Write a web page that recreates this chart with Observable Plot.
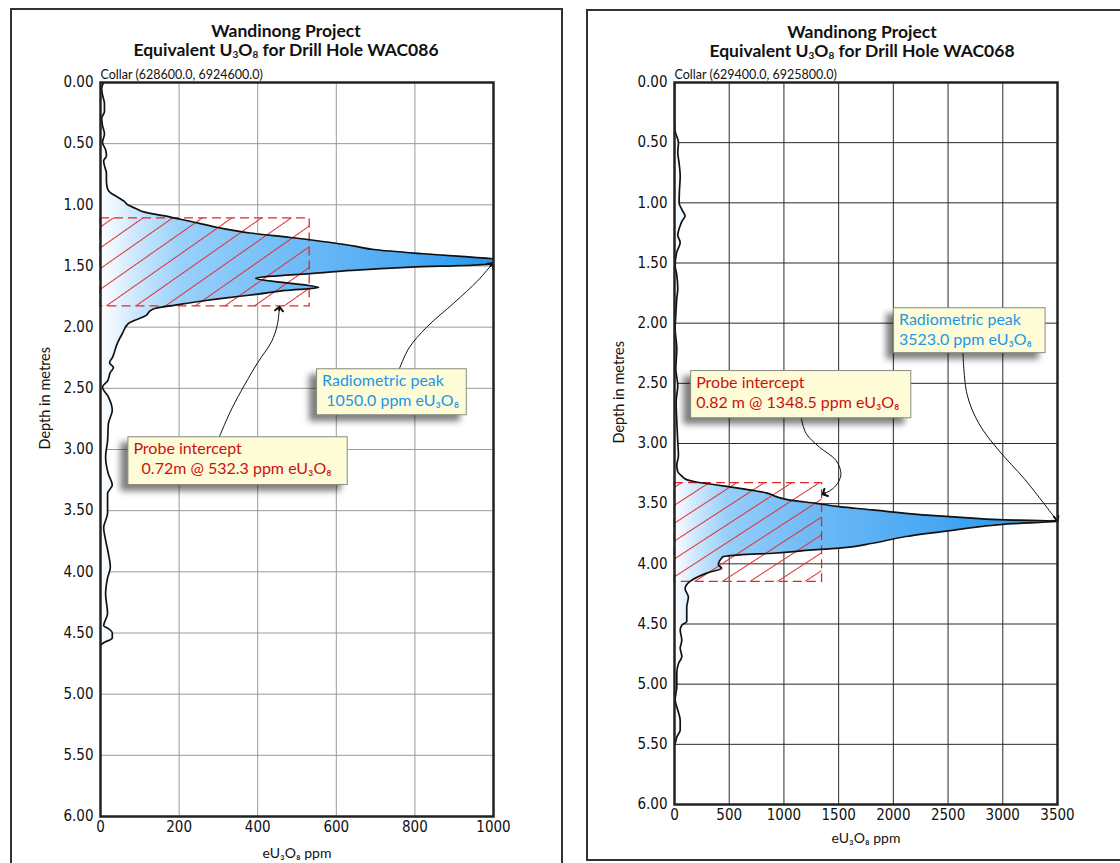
<!DOCTYPE html>
<html><head><meta charset="utf-8">
<script src="https://cdn.jsdelivr.net/npm/d3@7"></script>
<script src="https://cdn.jsdelivr.net/npm/@observablehq/plot@0.6"></script>
<style>
html,body{margin:0;padding:0;background:#fff}
body{width:1120px;height:863px;overflow:hidden;position:relative;font-family:Lato,"Open Sans",sans-serif}
.panel{position:absolute;border:2px solid #333;box-sizing:border-box;background:#fff}
.title{position:absolute;text-align:center;font-weight:bold;font-size:17.5px;line-height:19px;color:#111;font-family:Lato,sans-serif}
.title sub{font-size:10px;vertical-align:-2px;line-height:0}
.chart{position:absolute}
svg g[aria-label="rect"][fill="#fdfcd6"]{filter:drop-shadow(-7px 6px 3px rgba(0,0,0,0.5))}
</style></head>
<body>
<svg width="0" height="0" style="position:absolute">
 <defs>
  <linearGradient id="gradL" x1="0" x2="1" y1="0" y2="0">
   <stop offset="0" stop-color="#ffffff"/>
   <stop offset="0.08" stop-color="#cfe9fd"/>
   <stop offset="0.2" stop-color="#98d0fa"/>
   <stop offset="0.45" stop-color="#72bdf7"/>
   <stop offset="0.75" stop-color="#4aa9f3"/>
   <stop offset="1" stop-color="#1593ec"/>
  </linearGradient>
  <linearGradient id="gradR" x1="0" x2="1" y1="0" y2="0">
   <stop offset="0" stop-color="#ffffff"/>
   <stop offset="0.05" stop-color="#d2eafd"/>
   <stop offset="0.14" stop-color="#96cef9"/>
   <stop offset="0.35" stop-color="#6fbaf6"/>
   <stop offset="0.7" stop-color="#45a6f2"/>
   <stop offset="1" stop-color="#1a94ec"/>
  </linearGradient>
  <pattern id="hatchL" patternUnits="userSpaceOnUse" width="20" height="17" patternTransform="rotate(-35)">
   <line x1="0" y1="0.5" x2="20" y2="0.5" stroke="#e03030" stroke-width="1"/>
  </pattern>
  <pattern id="hatchR" patternUnits="userSpaceOnUse" width="20" height="15" patternTransform="rotate(-33)">
   <line x1="0" y1="0.5" x2="20" y2="0.5" stroke="#e03030" stroke-width="1"/>
  </pattern>
 </defs>
</svg>
<div class="panel" style="left:10px;top:8px;width:553px;height:890px"></div>
<div class="panel" style="left:586px;top:9px;width:560px;height:852px"></div>
<div class="title" style="left:86px;width:400px;top:21px">Wandinong Project<br>Equivalent U<sub>3</sub>O<sub>8</sub> for Drill Hole WAC086</div>
<div class="title" style="left:662px;width:400px;top:22px">Wandinong Project<br>Equivalent U<sub>3</sub>O<sub>8</sub> for Drill Hole WAC068</div>
<div id="chartL" class="chart" style="left:12px;top:60px"></div>
<div id="chartR" class="chart" style="left:588px;top:60px"></div>
<script>
// ---- Drill hole WAC086 (left) ----
const depthL = [0.00,0.05,0.10,0.17,0.24,0.29,0.35,0.42,0.49,0.55,0.60,0.64,0.68,0.74,0.80,0.87,0.90,0.94,0.97,1.00,1.03,1.06,1.10,1.14,1.185,1.23,1.267,1.31,1.34,1.365,1.40,1.42,1.46,1.49,1.51,1.535,1.56,1.58,1.60,1.63,1.655,1.675,1.70,1.73,1.76,1.79,1.82,1.845,1.87,1.90,1.97,2.05,2.13,2.25,2.29,2.33,2.37,2.44,2.49,2.57,2.68,2.79,2.93,3.06,3.20,3.29,3.36,3.52,3.64,3.74,3.85,3.96,4.05,4.18,4.34,4.44,4.46,4.50,4.54,4.58,4.60];
const ppmL   = [8,3,5,10,10,3,5,10,5,13,15,8,10,15,15,18,25,45,60,69,90,112,178,235,298,380,483,590,650,695,822,908,1050,960,790,640,540,450,395,450,520,555,470,400,320,250,190,140,125,118,71,56,43,30,23,33,25,18,5,20,30,20,18,13,20,30,18,18,8,13,20,25,18,13,18,8,18,30,30,8,0];
const xTicksL = [0,200,400,600,800,1000];
// ---- Drill hole WAC068 (right) ----
const depthR = [0.00,0.30,0.40,0.50,0.58,0.67,0.78,0.90,1.00,1.06,1.11,1.15,1.19,1.27,1.33,1.41,1.52,1.60,1.715,1.80,1.88,2.05,2.21,2.38,2.52,2.65,2.82,2.99,3.10,3.18,3.235,3.27,3.30,3.318,3.345,3.373,3.395,3.41,3.442,3.47,3.497,3.525,3.552,3.58,3.602,3.62,3.635,3.645,3.67,3.718,3.773,3.829,3.87,3.884,3.912,3.925,3.94,3.953,4.008,4.036,4.077,4.146,4.207,4.276,4.36,4.48,4.51,4.55,4.635,4.70,4.77,4.83,4.91,5.02,5.13,5.215,5.30,5.38,5.44,5.49,5.50];
const ppmR   = [0,0,5,36,30,42,52,45,42,70,97,70,52,30,52,21,6,21,30,20,15,6,21,12,30,15,21,30,36,21,30,67,110,188,385,597,748,839,930,1052,1294,1506,1809,2112,2415,2718,3021,3523,3021,2567,2112,1809,1506,1264,900,597,445,430,400,430,294,142,97,127,112,112,67,52,67,52,67,36,21,21,6,30,52,52,21,6,0];
const xTicksR = [0,500,1000,1500,2000,2500,3000,3500];
const yTicks = [0,0.5,1,1.5,2,2.5,3,3.5,4,4.5,5,5.5,6];

// ---- annotations ----
const collarL = "Collar (628600.0, 6924600.0)";
const collarR = "Collar (629400.0, 6925800.0)";
const interceptL = [{x1: 0, x2: 532.3, y1: 1.11, y2: 1.83}];
const interceptR = [{x1: 0, x2: 1348.5, y1: 3.33, y2: 4.15}];
const boxesL = [
  {x1: 551, x2: 932, y1: 2.344, y2: 2.72, color: "#1e96e8", text: "Radiometric peak\n 1050.0 ppm eU₃O₈"},
  {x1: 71, x2: 629, y1: 2.90, y2: 3.29, color: "#cc1111", text: "Probe intercept\n  0.72m @ 532.3 ppm eU₃O₈"}
];
const boxesR = [
  {x1: 2006, x2: 3391, y1: 1.876, y2: 2.249, color: "#1e96e8", text: "Radiometric peak\n3523.0 ppm eU₃O₈"},
  {x1: 152, x2: 2164, y1: 2.398, y2: 2.79, color: "#cc1111", text: "Probe intercept\n0.82 m @ 1348.5 ppm eU₃O₈"}
];
const arrowsL = [
  [[760,2.344],[785,2.17],[830,2.0],[900,1.80],[960,1.62],[995,1.49]],
  [[302,2.90],[335,2.66],[398,2.30],[435,2.12],[450,1.98],[455,1.85]]
];
const arrowsR = [
  [[2636,2.249],[2673,2.59],[2779,2.83],[2961,3.055],[3203,3.30],[3490,3.635]],
  [[1158,2.79],[1203,2.917],[1324,3.03],[1476,3.14],[1521,3.25],[1491,3.33],[1430,3.387],[1370,3.414]]
];

const narrow = '"DejaVu Sans Condensed","Liberation Sans Narrow","DejaVu Sans",sans-serif';
const sans = 'Lato,"Open Sans",sans-serif';

function chart({depth, ppm, xTicks, xMax, width, height, mL, mR, mB, gridColor, grad, hatch, intercept, boxes, arrows, collar, xLabelDy}) {
  const data = depth.map((d, i) => ({depth: d, ppm: ppm[i]}));
  const arrowData = arrows.flatMap((pts, k) => pts.map(([x, y]) => ({k, x, y})));
  // short final segment of each arrow, drawn thicker so its arrowhead is larger
  const headData = arrows.flatMap((pts, k) => {
    const [x1, y1] = pts[pts.length - 2], [x2, y2] = pts[pts.length - 1];
    return [{k, x: x2 + 0.08 * (x1 - x2), y: y2 + 0.08 * (y1 - y2)}, {k, x: x2, y: y2}];
  });
  return Plot.plot({
    width, height,
    marginLeft: mL, marginRight: mR, marginTop: 22, marginBottom: mB,
    style: {fontFamily: narrow, fontSize: "15px", color: "#111", background: "transparent", overflow: "visible"},
    x: {domain: [0, xMax], ticks: xTicks},
    y: {domain: [0, 6], reverse: true, ticks: yTicks},
    marks: [
      Plot.gridX(xTicks, {stroke: gridColor, strokeOpacity: 1, strokeWidth: 1}),
      Plot.gridY(yTicks, {stroke: gridColor, strokeOpacity: 1, strokeWidth: 1}),
      Plot.areaX(data, {y: "depth", x: "ppm", fill: `url(#${grad})`, curve: "monotone-y", clip: true}),
      Plot.rect(intercept, {x1: "x1", x2: "x2", y1: "y1", y2: "y2", fill: `url(#${hatch})`, stroke: "#dc2a2a", strokeWidth: 1.3, strokeDasharray: "9,5"}),
      Plot.lineX(data, {y: "depth", x: "ppm", stroke: "#111", strokeWidth: 1.7, curve: "monotone-y", clip: true}),
      Plot.line(arrowData, {x: "x", y: "y", z: "k", stroke: "#111", strokeWidth: 1, curve: "catmull-rom"}),
      Plot.line(headData, {x: "x", y: "y", z: "k", stroke: "#111", strokeWidth: 2, markerEnd: "arrow"}),
      Plot.rect(boxes, {x1: "x1", x2: "x2", y1: "y1", y2: "y2", fill: "#fdfcd6", stroke: "#8a8a80", strokeWidth: 1}),
      Plot.text(boxes, {x: "x1", y: "y1", text: "text", fill: "color", dx: 5, dy: 3, textAnchor: "start", lineAnchor: "top", lineHeight: 1.25, fontSize: 16, fontFamily: sans}),
      Plot.frame({stroke: "#222", strokeWidth: 2.5}),
      Plot.axisX(xTicks, {tickSize: 0, tickPadding: 5, tickFormat: d3.format("d"), label: null, fontFamily: narrow, fontSize: 15}),
      Plot.axisY(yTicks, {tickSize: 0, tickPadding: 7, tickFormat: d3.format(".2f"), label: null, fontFamily: narrow, fontSize: 15}),
      Plot.text([collar], {frameAnchor: "top-left", dy: -4, textAnchor: "start", lineAnchor: "bottom", fontSize: 12.5, fontFamily: sans, fill: "#111"}),
      Plot.text(["eU₃O₈ ppm"], {frameAnchor: "bottom", dy: xLabelDy, fontSize: 14, fontFamily: sans, fill: "#111"}),
      Plot.text(["Depth in metres"], {frameAnchor: "left", dx: -55, rotate: -90, fontSize: 14.5, fontFamily: sans, fill: "#111"})
    ]
  });
}

document.getElementById("chartL").append(chart({
  depth: depthL, ppm: ppmL, xTicks: xTicksL, xMax: 1000, width: 548, height: 810,
  mL: 88, mR: 67, mB: 54, gridColor: "#9a9a9a", grad: "gradL", hatch: "hatchL",
  intercept: interceptL, boxes: boxesL, arrows: arrowsL, collar: collarL, xLabelDy: 41
}));
document.getElementById("chartR").append(chart({
  depth: depthR, ppm: ppmR, xTicks: xTicksR, xMax: 3500, width: 530, height: 790,
  mL: 86, mR: 61, mB: 46, gridColor: "#2a2a2a", grad: "gradR", hatch: "hatchR",
  intercept: interceptR, boxes: boxesR, arrows: arrowsR, collar: collarR, xLabelDy: 38
}));
</script>
</body></html>
